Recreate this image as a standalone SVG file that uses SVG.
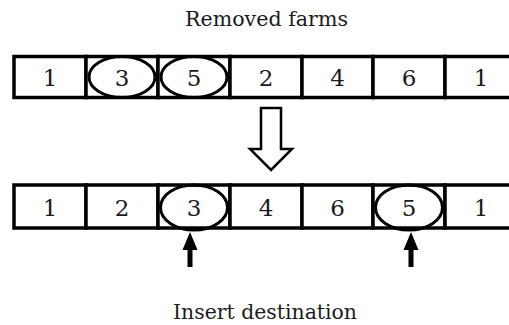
<svg xmlns="http://www.w3.org/2000/svg" width="509" height="325" viewBox="0 0 509 325">
<style>
.cell{fill:#fff;stroke:#000;stroke-width:3.5}
.ring{fill:none;stroke:#000;stroke-width:3}
.num{font-family:"DejaVu Serif","Liberation Serif",serif;font-size:23px;text-anchor:middle;fill:#1a1a1a}
.lbl{font-family:"DejaVu Serif","Liberation Serif",serif;font-size:19.5px;text-anchor:middle;fill:#1a1a1a}
.up{fill:#000}
.down{fill:#fff;stroke:#000;stroke-width:2.5;stroke-linejoin:miter}
</style>
<rect width="509" height="325" fill="#fff"/>
<text id="label-removed" class="lbl" x="266.5" y="26" textLength="163" lengthAdjust="spacingAndGlyphs">Removed farms</text>
<g id="row-top">
<g id="t1"><rect class="cell" x="14" y="56.5" width="72" height="41"/><text class="num" x="50" y="86">1</text></g>
<g id="t2"><rect class="cell" x="86" y="56.5" width="72" height="41"/><ellipse class="ring" cx="122" cy="77" rx="33" ry="20.5"/><text class="num" x="122" y="86">3</text></g>
<g id="t3"><rect class="cell" x="158" y="56.5" width="72" height="41"/><ellipse class="ring" cx="194" cy="77" rx="33" ry="20.5"/><text class="num" x="194" y="86">5</text></g>
<g id="t4"><rect class="cell" x="230" y="56.5" width="72" height="41"/><text class="num" x="266" y="86">2</text></g>
<g id="t5"><rect class="cell" x="302" y="56.5" width="71" height="41"/><text class="num" x="337.5" y="86">4</text></g>
<g id="t6"><rect class="cell" x="373" y="56.5" width="72" height="41"/><text class="num" x="409" y="86">6</text></g>
<g id="t7"><rect class="cell" x="445" y="56.5" width="72" height="41"/><text class="num" x="481" y="86">1</text></g>
</g>
<g id="row-bottom">
<g id="b1"><rect class="cell" x="14" y="185" width="72" height="43"/><text class="num" x="50" y="216">1</text></g>
<g id="b2"><rect class="cell" x="86" y="185" width="72" height="43"/><text class="num" x="122" y="216">2</text></g>
<g id="b3"><rect class="cell" x="158" y="185" width="72" height="43"/><ellipse class="ring" cx="194" cy="207.5" rx="33.5" ry="22.5"/><text class="num" x="194" y="216">3</text></g>
<g id="b4"><rect class="cell" x="230" y="185" width="72" height="43"/><text class="num" x="266" y="216">4</text></g>
<g id="b5"><rect class="cell" x="302" y="185" width="71" height="43"/><text class="num" x="337.5" y="216">6</text></g>
<g id="b6"><rect class="cell" x="373" y="185" width="72" height="43"/><ellipse class="ring" cx="409" cy="207.5" rx="33.5" ry="22.5"/><text class="num" x="409" y="216">5</text></g>
<g id="b7"><rect class="cell" x="445" y="185" width="72" height="43"/><text class="num" x="481" y="216">1</text></g>
</g>
<g id="connectors">
<polygon class="down" points="261,108 281,108 281,149 292,149 271,170 250,149 261,149"/>
<polygon class="up" points="190,232 197.5,250 192.5,250 192.5,267 187.5,267 187.5,250 182.5,250"/>
<polygon class="up" points="411,232 418.5,250 413.5,250 413.5,267 408.5,267 408.5,250 403.5,250"/>
</g>
<text id="label-insert" class="lbl" x="265" y="319" textLength="184" lengthAdjust="spacingAndGlyphs">Insert destination</text>
</svg>
